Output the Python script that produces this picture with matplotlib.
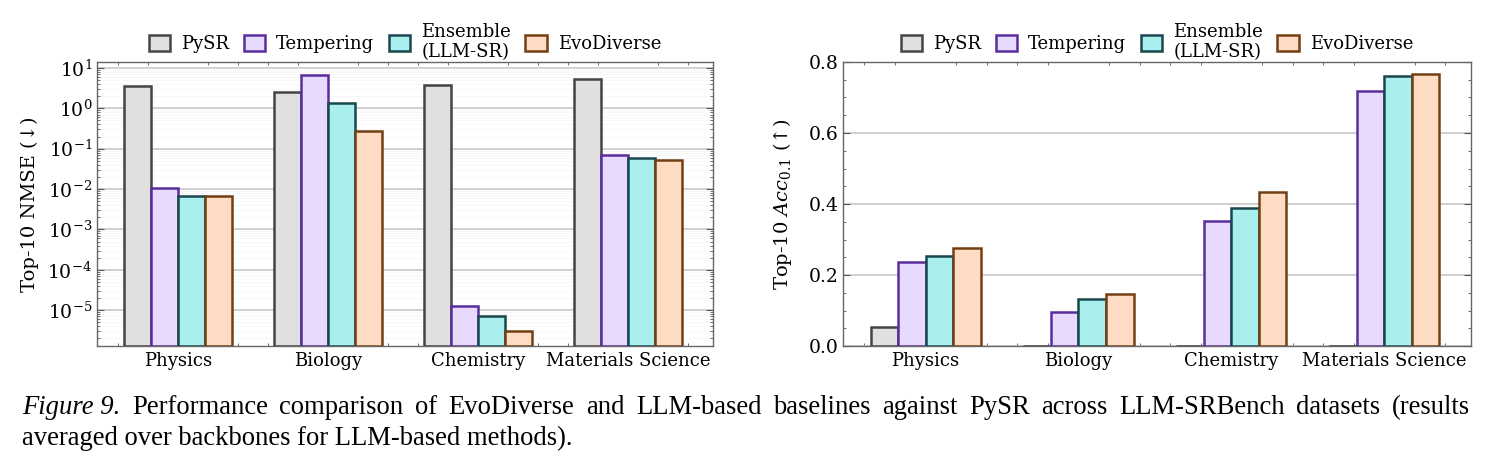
import numpy as np
import matplotlib.pyplot as plt
from matplotlib.ticker import AutoMinorLocator, LogLocator, NullFormatter

# data
domains = ["Physics", "Biology", "Chemistry", "Materials Science"]
methods = ["PySR", "Tempering", "Ensemble\n(LLM-SR)", "EvoDiverse"]

nmse_pysr = [3.5, 2.6, 3.7, 5.2]
nmse_tempering = [0.0105, 6.7, 1.25e-5, 0.071]
nmse_ensemble = [0.0068, 1.35, 7.2e-6, 0.060]
nmse_evodiverse = [0.0068, 0.28, 3.0e-6, 0.052]

acc_pysr = [0.053, 0.0, 0.0, 0.0]
acc_tempering = [0.238, 0.097, 0.351, 0.718]
acc_ensemble = [0.253, 0.131, 0.388, 0.760]
acc_evodiverse = [0.276, 0.147, 0.435, 0.767]

face_colors = ["#e0e0e0", "#e7dafd", "#a9efee", "#fedcc3"]
edge_colors = ["#444444", "#5a2d9c", "#18474d", "#723e14"]

plt.rcParams['font.family'] = ['DejaVu Serif']
plt.rcParams['mathtext.fontset'] = 'dejavuserif'

fig = plt.figure(figsize=(14.91, 4.71), dpi=100)
ax1 = fig.add_axes([97 / 1491, 125 / 471, 616 / 1491, 284 / 471])
ax2 = fig.add_axes([843 / 1491, 125 / 471, 628 / 1491, 284 / 471])

x = np.arange(len(domains))
w = 0.18
offsets = np.array([-1.5, -0.5, 0.5, 1.5]) * w


def draw(ax, series, log=False):
    for i, vals in enumerate(series):
        bottom = 1.3e-6 if log else 0
        heights = np.array(vals) - bottom if log else vals
        ax.bar(x + offsets[i], heights, w, bottom=bottom, color=face_colors[i],
               edgecolor=edge_colors[i], linewidth=1.8, label=methods[i], zorder=3)
    ax.set_axisbelow(True)
    ax.set_xticks(x)
    ax.set_xticklabels(domains, fontsize=13)
    ax.set_xlim(-0.54, 3.567)
    ax.xaxis.set_minor_locator(AutoMinorLocator(5))
    ax.tick_params(which='both', direction='in', top=True, right=True,
                   labelsize=13.5, color='#555555')
    ax.tick_params(which='major', length=5, width=0.8)
    ax.tick_params(which='minor', length=2.5, width=0.6)
    ax.tick_params(axis='x', which='major', length=0, pad=4, labelsize=13)
    for s in ax.spines.values():
        s.set_color('#666666')
        s.set_linewidth(1.0)
    ax.legend(loc='lower center', bbox_to_anchor=(0.5, 0.97), ncol=4,
              frameon=False, fontsize=13, handlelength=1.2, handleheight=1.0,
              columnspacing=0.8, handletextpad=0.6, borderaxespad=0.1)


draw(ax1, [nmse_pysr, nmse_tempering, nmse_ensemble, nmse_evodiverse], log=True)
ax1.set_yscale('log')
ax1.set_ylim(1.3e-6, 14)
ax1.set_yticks([1e-5, 1e-4, 1e-3, 1e-2, 1e-1, 1, 10])
ax1.yaxis.set_minor_locator(LogLocator(base=10, subs=np.arange(2, 10), numticks=20))
ax1.yaxis.set_minor_formatter(NullFormatter())
ax1.grid(True, which='major', axis='y', color='#c4c4c4', linewidth=1.1)
ax1.grid(True, which='minor', axis='y', color='#f4f4f4', linewidth=0.5)
ax1.set_ylabel("Top-10 NMSE (↓)", fontsize=14, labelpad=6)

draw(ax2, [acc_pysr, acc_tempering, acc_ensemble, acc_evodiverse])
ax2.set_ylim(0, 0.8)
ax2.set_yticks([0.0, 0.2, 0.4, 0.6, 0.8])
ax2.set_yticklabels(["0.0", "0.2", "0.4", "0.6", "0.8"])
ax2.yaxis.set_minor_locator(AutoMinorLocator(4))
ax2.grid(True, which='major', axis='y', color='#c4c4c4', linewidth=1.1)
ax2.set_ylabel("Top-10 $Acc_{0.1}$ (↑)", fontsize=14, labelpad=10)

# caption, first line justified between x=22 and x=1470
cap_font = 'Liberation Serif'
cap_size = 19.2
y1 = 1 - 408 / 471
y2 = 1 - 438 / 471
line1 = ("Performance comparison of EvoDiverse and LLM-based baselines against PySR "
         "across LLM-SRBench datasets (results").split()
words = [fig.text(0, y1, "Figure 9.", fontsize=cap_size, family=cap_font,
                  style='italic', va='center')]
words += [fig.text(0, y1, wd, fontsize=cap_size, family=cap_font, va='center')
          for wd in line1]
fig.canvas.draw()
widths = [t.get_window_extent().width for t in words]
gap = (1448 - sum(widths)) / (len(words) - 1)
pos = 22
for t, wd in zip(words, widths):
    t.set_x(pos / 1491)
    pos += wd + gap
fig.text(22 / 1491, y2, "averaged over backbones for LLM-based methods).",
         fontsize=cap_size, family=cap_font, va='center')

fig.savefig("out.png", dpi=100)
